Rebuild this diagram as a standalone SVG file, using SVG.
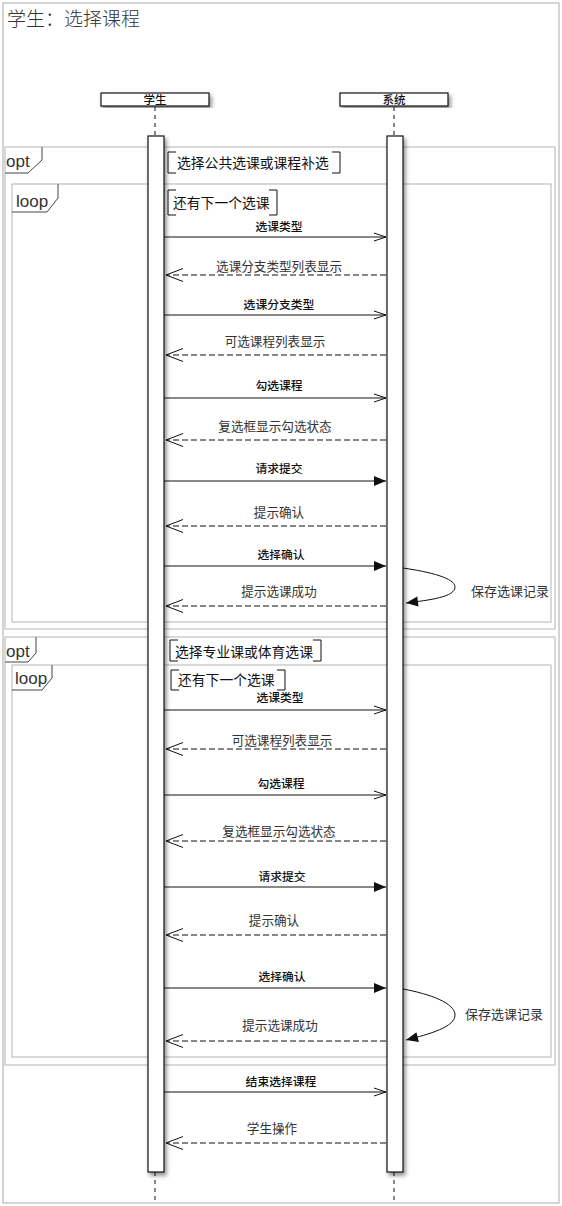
<svg xmlns="http://www.w3.org/2000/svg" width="562" height="1206" viewBox="0 0 562 1206">
<style>
.frame{fill:none;stroke:#b4b4b4;stroke-width:1}
.tab{fill:#fff;stroke:#444;stroke-width:1}
.ftxt{font-family:"Liberation Sans","Noto Sans",sans-serif;font-size:17px;fill:#333}
.guard{fill:none;stroke:#111;stroke-width:1}
.gtxt{font-family:"Noto Sans CJK SC",sans-serif;font-size:13.8px;fill:#111}
.head{fill:#fff;stroke:#111;stroke-width:1.2}
.htxt{font-family:"Noto Sans CJK SC",sans-serif;font-size:11.5px;font-weight:500;fill:#111;text-anchor:middle}
.life{stroke:#111;stroke-width:1;stroke-dasharray:4,4}
.act{fill:#fff;stroke:#111;stroke-width:1.2}
.msg{stroke:#111;stroke-width:1;fill:none}
.sync{marker-end:url(#open)}
.call{marker-end:url(#fill)}
.ret{stroke-dasharray:6,3;marker-end:url(#openbig)}
.lb{font-family:"Noto Sans CJK SC",sans-serif;font-size:11.8px;font-weight:500;fill:#111;text-anchor:middle}
.lr{font-family:"Noto Sans CJK SC",sans-serif;font-size:12.6px;fill:#333;text-anchor:middle}
.self{font-family:"Noto Sans CJK SC",sans-serif;font-size:13px;fill:#333}
</style>
<defs>
<filter id="sh" x="-50%" y="-10%" width="200%" height="120%">
<feDropShadow dx="2" dy="3" stdDeviation="2" flood-color="#000" flood-opacity="0.45"/>
</filter>
<marker id="open" markerUnits="userSpaceOnUse" markerWidth="14" markerHeight="10" refX="12" refY="4.5" orient="auto" overflow="visible">
<path d="M0,0.5 L12,4.5 L0,8.5" fill="none" stroke="#111" stroke-width="1"/>
</marker>
<marker id="openbig" markerUnits="userSpaceOnUse" markerWidth="19" markerHeight="15" refX="17" refY="6.5" orient="auto" overflow="visible">
<path d="M0,0 L17,6.5 L0,13" fill="none" stroke="#111" stroke-width="1"/>
</marker>
<marker id="fill" markerUnits="userSpaceOnUse" markerWidth="14" markerHeight="12" refX="12" refY="5" orient="auto" overflow="visible">
<path d="M0,0 L12,5 L0,10 Z" fill="#111" stroke="none"/>
</marker>
</defs>
<rect x="0" y="0" width="562" height="1206" fill="#fff"/>
<rect x="3" y="3" width="556" height="1200" fill="none" stroke="#aaa" stroke-width="1"/>
<text x="7" y="26" font-family="Noto Sans CJK SC,sans-serif" font-size="19" font-weight="300" fill="#333">学生：选择课程</text>

<g id="opt1">
<rect class="frame" x="5" y="147" width="550" height="482"/>
<path class="tab" d="M5,173 L28,173 L42,160 L42,147"/>
<text class="ftxt" x="6" y="167">opt</text>
</g>
<g id="loop1">
<rect class="frame" x="12" y="184" width="539" height="438"/>
<path class="tab" d="M12,212 L47,212 L58,198 L58,184"/>
<text class="ftxt" x="16" y="207">loop</text>
</g>
<g id="opt2">
<rect class="frame" x="5" y="637" width="550" height="428"/>
<path class="tab" d="M5,662 L28,662 L36,653 L36,637"/>
<text class="ftxt" x="6" y="657">opt</text>
</g>
<g id="loop2">
<rect class="frame" x="12" y="665" width="539" height="392"/>
<path class="tab" d="M12,690 L42,690 L52,678 L52,665"/>
<text class="ftxt" x="15" y="684">loop</text>
</g>

<g id="student">
<line class="life" x1="155" y1="107" x2="155" y2="136"/>
<line class="life" x1="155" y1="1172" x2="155" y2="1203"/>
<rect class="head" x="101" y="93" width="108" height="13" filter="url(#sh)"/>
<text class="htxt" x="155" y="104">学生</text>
<rect class="act" x="148" y="136" width="16" height="1036" filter="url(#sh)"/>
</g>
<g id="system">
<line class="life" x1="394" y1="107" x2="394" y2="136"/>
<line class="life" x1="394" y1="1172" x2="394" y2="1203"/>
<rect class="head" x="340" y="93" width="108" height="13" filter="url(#sh)"/>
<text class="htxt" x="394" y="104">系统</text>
<rect class="act" x="387" y="136" width="16" height="1036" filter="url(#sh)"/>
</g>

<g id="guards">
<path class="guard" d="M176,152 L168,152 L168,173 L176,173 M332,152 L340,152 L340,173 L332,173"/>
<text class="gtxt" x="177" y="168">选择公共选课或课程补选</text>
<path class="guard" d="M176,190 L168,190 L168,215 L176,215 M269,190 L277,190 L277,215 L269,215"/>
<text class="gtxt" x="173" y="208">还有下一个选课</text>
<path class="guard" d="M178,640 L170,640 L170,661 L178,661 M313,640 L321,640 L321,661 L313,661"/>
<text class="gtxt" x="175" y="657">选择专业课或体育选课</text>
<path class="guard" d="M179,670 L171,670 L171,690 L179,690 M277,670 L285,670 L285,690 L277,690"/>
<text class="gtxt" x="178" y="685">还有下一个选课</text>
</g>

<g id="connectors">
<line class="msg sync" x1="164" y1="237" x2="386" y2="237"/>
<text class="lb" x="279" y="231">选课类型</text>
<line class="msg ret" x1="386" y1="275" x2="166" y2="275"/>
<text class="lr" x="279" y="271">选课分支类型列表显示</text>
<line class="msg sync" x1="164" y1="315" x2="386" y2="315"/>
<text class="lb" x="279" y="309">选课分支类型</text>
<line class="msg ret" x1="386" y1="355" x2="166" y2="355"/>
<text class="lr" x="275" y="346">可选课程列表显示</text>
<line class="msg sync" x1="164" y1="398" x2="386" y2="398"/>
<text class="lb" x="279" y="390">勾选课程</text>
<line class="msg ret" x1="386" y1="440" x2="166" y2="440"/>
<text class="lr" x="275" y="431">复选框显示勾选状态</text>
<line class="msg call" x1="164" y1="481" x2="386" y2="481"/>
<text class="lb" x="279" y="473">请求提交</text>
<line class="msg ret" x1="386" y1="526" x2="166" y2="526"/>
<text class="lr" x="279" y="517">提示确认</text>
<line class="msg call" x1="164" y1="566" x2="386" y2="566"/>
<text class="lb" x="281" y="559">选择确认</text>
<path class="msg call" d="M403,568 C430,572 455,578 455,587 C455,597 430,600 406,603"/>
<text class="self" x="471" y="596">保存选课记录</text>
<line class="msg ret" x1="386" y1="606" x2="166" y2="606"/>
<text class="lr" x="279" y="596">提示选课成功</text>

<line class="msg sync" x1="164" y1="710" x2="386" y2="710"/>
<text class="lb" x="280" y="702">选课类型</text>
<line class="msg ret" x1="386" y1="749" x2="166" y2="749"/>
<text class="lr" x="282" y="745">可选课程列表显示</text>
<line class="msg sync" x1="164" y1="795" x2="386" y2="795"/>
<text class="lb" x="281" y="788">勾选课程</text>
<line class="msg ret" x1="386" y1="841" x2="166" y2="841"/>
<text class="lr" x="279" y="836">复选框显示勾选状态</text>
<line class="msg call" x1="164" y1="887" x2="386" y2="887"/>
<text class="lb" x="282" y="881">请求提交</text>
<line class="msg ret" x1="386" y1="935" x2="166" y2="935"/>
<text class="lr" x="274" y="925">提示确认</text>
<line class="msg call" x1="164" y1="988" x2="386" y2="988"/>
<text class="lb" x="282" y="981">选择确认</text>
<path class="msg call" d="M403,989 C430,994 455,1003 455,1015 C455,1027 430,1034 406,1040"/>
<text class="self" x="465" y="1019">保存选课记录</text>
<line class="msg ret" x1="386" y1="1041" x2="166" y2="1041"/>
<text class="lr" x="280" y="1030">提示选课成功</text>

<line class="msg sync" x1="164" y1="1092" x2="386" y2="1092"/>
<text class="lb" x="281" y="1086">结束选择课程</text>
<line class="msg ret" x1="386" y1="1143" x2="166" y2="1143"/>
<text class="lr" x="272" y="1133">学生操作</text>
</g>
</svg>
